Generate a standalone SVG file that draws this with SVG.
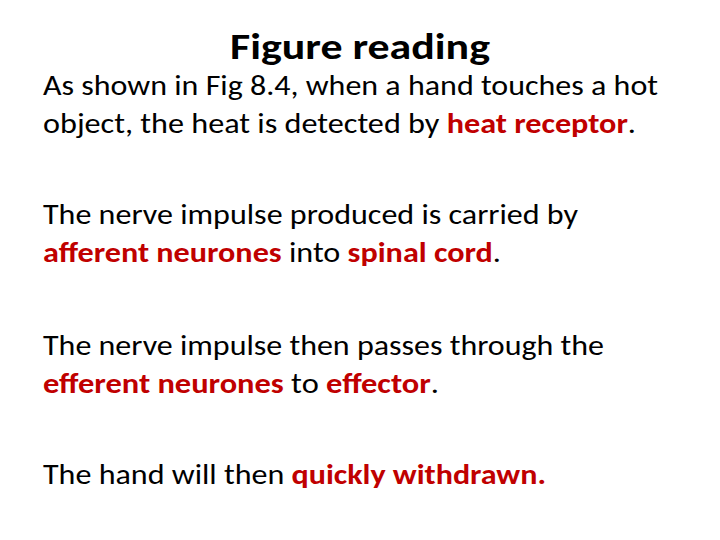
<svg xmlns="http://www.w3.org/2000/svg" width="720" height="540" viewBox="0 0 720 540">
<style>
text{font-family:Carlito,Lato,"Liberation Sans",sans-serif;fill:#000;font-size:28px}
.t{font-size:36px;font-weight:bold}
.r{fill:#c00000;font-weight:bold}
</style>
<rect width="720" height="540" fill="#fff"/>
<g id="title"><text class="t" x="230" y="59" textLength="260" lengthAdjust="spacingAndGlyphs">Figure reading</text></g>
<g id="p1">
<text x="43" y="95" textLength="615" lengthAdjust="spacingAndGlyphs">As shown in Fig 8.4, when a hand touches a hot</text>
<text x="43" y="133" textLength="593" lengthAdjust="spacingAndGlyphs">object, the heat is detected by <tspan class="r">heat receptor</tspan>.</text>
</g>
<g id="p2">
<text x="43" y="224" textLength="535" lengthAdjust="spacingAndGlyphs">The nerve impulse produced is carried by</text>
<text x="43" y="262" textLength="458" lengthAdjust="spacingAndGlyphs"><tspan class="r">afferent neurones</tspan> into <tspan class="r">spinal cord</tspan>.</text>
</g>
<g id="p3">
<text x="43" y="355" textLength="561" lengthAdjust="spacingAndGlyphs">The nerve impulse then passes through the</text>
<text x="43" y="393" textLength="396" lengthAdjust="spacingAndGlyphs"><tspan class="r">efferent neurones</tspan> to <tspan class="r">effector</tspan>.</text>
</g>
<g id="p4">
<text x="43" y="484" textLength="503" lengthAdjust="spacingAndGlyphs">The hand will then <tspan class="r">quickly withdrawn.</tspan></text>
</g>
</svg>
